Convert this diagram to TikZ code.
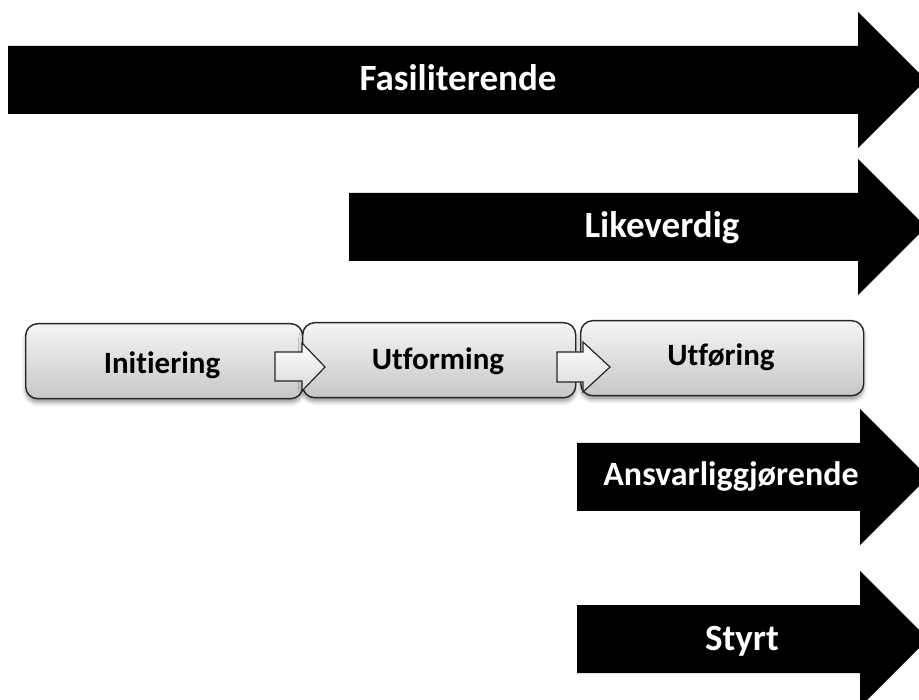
\documentclass[tikz,border=0pt]{standalone}
\usepackage{fontspec}
\setmainfont{Carlito}[Ligatures=CommonOff]
\usetikzlibrary{shadows.blur}
\begin{document}
\begin{tikzpicture}[x=1pt,y=1pt,
  bigtxt/.style={text=white,font=\fontsize{37}{44}\selectfont\bfseries,inner sep=0pt,anchor=base},
  boxtxt/.style={text=black,font=\fontsize{31}{37}\selectfont\bfseries,inner sep=0pt,anchor=base},
  stage/.style={draw=black!85,line width=1.4pt,rounded corners=12pt,
    top color=white!96!black,bottom color=black!22,
    minimum height=75pt,inner sep=0pt,anchor=north west,
    blur shadow={shadow xshift=0pt,shadow yshift=-4pt,shadow blur radius=4pt,shadow opacity=40}},
  smallarrow/.style={draw=black!85,line width=1.2pt,top color=white,bottom color=black!15},
  bigarrow/.style={fill=black}]
\useasboundingbox (0,0) rectangle (919,-700);
\clip (0,0) rectangle (919,-700);
% big arrows
\fill[bigarrow] (8,-46) -- (858,-46) -- (858,-12) -- (926,-80) -- (858,-148) -- (858,-114) -- (8,-114) -- cycle;
\fill[bigarrow] (349,-193) -- (858,-193) -- (858,-159) -- (926,-227) -- (858,-295) -- (858,-261) -- (349,-261) -- cycle;
\fill[bigarrow] (577,-443) -- (860,-443) -- (860,-409) -- (928,-477) -- (860,-545) -- (860,-511) -- (577,-511) -- cycle;
\fill[bigarrow] (577,-605) -- (860,-605) -- (860,-571) -- (928,-639) -- (860,-707) -- (860,-673) -- (577,-673) -- cycle;
\node[bigtxt] (t1) at (458,-91) {Fasiliterende};
\node[bigtxt] (t2) at (662,-238) {Likeverdig};
\node[bigtxt,font=\fontsize{34}{40}\selectfont\bfseries] (t3) at (731,-486) {Ansvarliggjørende};
\node[bigtxt] (t4) at (742,-650) {Styrt};
% stage boxes
\node[stage,minimum width=277pt] (b1) at (25,-323) {};
\node[stage,minimum width=273pt] (b2) at (302,-322) {};
\node[stage,minimum width=283pt] (b3) at (580,-320) {};
\node[boxtxt] (l1) at (162,-374) {Initiering};
\node[boxtxt] (l2) at (438,-370) {Utforming};
\node[boxtxt] (l3) at (721,-366) {Utføring};
% small arrows
\draw[smallarrow] (275,-352) -- (302,-352) -- (302,-343) -- (325,-367) -- (302,-391) -- (302,-381) -- (275,-381) -- cycle;
\draw[smallarrow] (557,-352) -- (583,-352) -- (583,-342) -- (610,-367) -- (583,-392) -- (583,-382) -- (557,-382) -- cycle;
\end{tikzpicture}
\end{document}
